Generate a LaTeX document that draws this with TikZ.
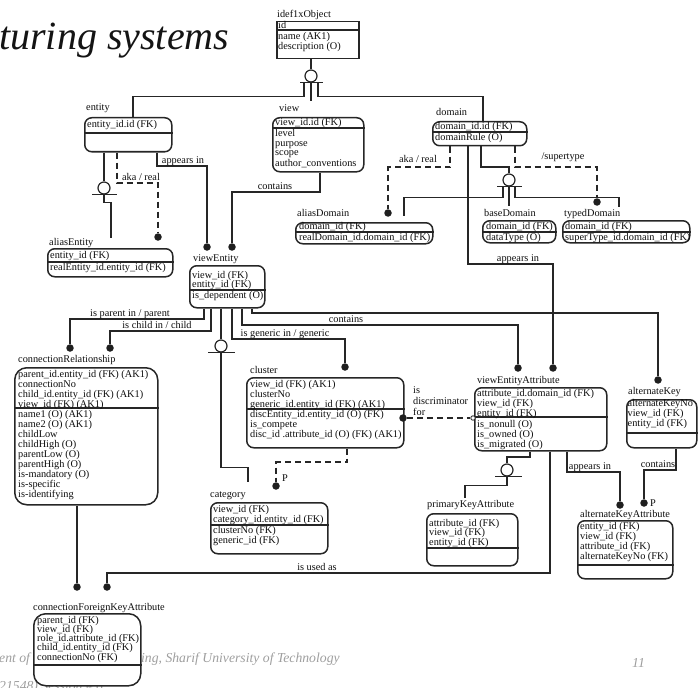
\documentclass[tikz,border=0pt]{standalone}
\usepackage{fontspec}
\setmainfont{Liberation Serif}
\usetikzlibrary{calc}

% stacked attribute rows, first baseline = node baseline
\newcommand\erows[2][10pt]{\vtop{\baselineskip=#1\lineskiplimit=-30pt\lineskip=0pt\halign{##\hfil\cr#2\crcr}}}

\begin{document}
\begin{tikzpicture}[x=1pt,y=-1pt,
  conn/.style={line width=1.2pt, draw=black!85},
  dconn/.style={conn, dash pattern=on 6pt off 4pt},
  ebox/.style={draw=black!85, line width=1.5pt, fill=white, rounded corners=7pt, inner sep=0pt, anchor=north west},
  bigbox/.style={ebox, rounded corners=12pt},
  ibox/.style={ebox, rounded corners=0pt},
  sepl/.style={line width=1.2pt, draw=black!85},
  rowt/.style={inner sep=0pt, anchor=base west, text=black!95, font=\fontsize{10.3}{10}\selectfont},
  lbl/.style={rowt},
  rlab/.style={rowt, anchor=base},
  blob/.style={circle, fill=black!88, inner sep=0pt, minimum size=7.5pt},
  catc/.style={circle, draw=black!85, fill=white, line width=1.2pt, minimum size=12pt, inner sep=0pt},
  foot/.style={inner sep=0pt, anchor=base west, text=black!38, font=\fontsize{13.7}{13.7}\selectfont\itshape},
]
\useasboundingbox (0,0) rectangle (700,687);
\clip (0,0) rectangle (700,687);

% slide title and footer
\node[anchor=base west, inner sep=0pt, font=\fontsize{40}{40}\selectfont\itshape, text=black!92] (title) at (-1,50) {turing systems};
\node[foot] (foot1) at (-1,662) {ent of Industrial Engineering, Sharif University of Technology};
\node[foot] (foot2) at (632,667) {11};
\node[foot] (foot3) at (-1,690) {21548) Session \# 6};

% ---------- entity boxes ----------
% idef1xObject
\node[ibox, minimum width=82pt, minimum height=37pt] (iobj) at (276,21) {};
\draw[sepl] (iobj.west |- 0,30) -- (iobj.east |- 0,30);
\node[lbl] (iobj-l) at (277,18) {idef1xObject};
\node[rowt] (iobj-k) at (278,28.5) {id};
\node[rowt] (iobj-n) at (278,40) {\erows{name (AK1)\cr description (O)}};

% entity
\node[ebox, minimum width=87pt, minimum height=34pt] (entity) at (84,117) {};
\draw[sepl] (entity.west |- 0,133) -- (entity.east |- 0,133);
\node[lbl] (entity-l) at (86,111) {entity};
\node[rowt] (entity-k) at (87,128) {entity\_id.id (FK)};

% view
\node[ebox, minimum width=91pt, minimum height=54pt] (view) at (272,117) {};
\draw[sepl] (view.west |- 0,128) -- (view.east |- 0,128);
\node[lbl] (view-l) at (279,112) {view};
\node[rowt] (view-k) at (275,126) {view\_id.id (FK)};
\node[rowt] (view-n) at (275,136) {\erows{level\cr purpose\cr scope\cr author\_conventions}};

% domain
\node[ebox, minimum width=94pt, minimum height=24pt] (domain) at (432,121) {};
\draw[sepl] (domain.west |- 0,132) -- (domain.east |- 0,132);
\node[lbl] (domain-l) at (436,116) {domain};
\node[rowt] (domain-k) at (435,129.5) {domain\_id.id (FK)};
\node[rowt] (domain-n) at (435,140.5) {domainRule (O)};

% aliasEntity
\node[ebox, minimum width=125pt, minimum height=28pt] (aliasEntity) at (47,248) {};
\draw[sepl] (aliasEntity.west |- 0,262) -- (aliasEntity.east |- 0,262);
\node[lbl] (aliasEntity-l) at (49,245) {aliasEntity};
\node[rowt] (aliasEntity-k) at (50,258.5) {entity\_id (FK)};
\node[rowt] (aliasEntity-n) at (50,270) {realEntity\_id.entity\_id (FK)};

% aliasDomain
\node[ebox, minimum width=137pt, minimum height=21pt] (aliasDomain) at (295,222) {};
\draw[sepl] (aliasDomain.west |- 0,232) -- (aliasDomain.east |- 0,232);
\node[lbl] (aliasDomain-l) at (297,216) {aliasDomain};
\node[rowt] (aliasDomain-k) at (299,229.5) {domain\_id (FK)};
\node[rowt] (aliasDomain-n) at (299,240) {realDomain\_id.domain\_id (FK)};

% baseDomain
\node[ebox, minimum width=73pt, minimum height=22pt] (baseDomain) at (482,220) {};
\draw[sepl] (baseDomain.west |- 0,232) -- (baseDomain.east |- 0,232);
\node[lbl] (baseDomain-l) at (484,216) {baseDomain};
\node[rowt] (baseDomain-k) at (486,229.5) {domain\_id (FK)};
\node[rowt] (baseDomain-n) at (486,240) {dataType (O)};

% typedDomain
\node[ebox, minimum width=127pt, minimum height=22pt] (typedDomain) at (562,220) {};
\draw[sepl] (typedDomain.west |- 0,232) -- (typedDomain.east |- 0,232);
\node[lbl] (typedDomain-l) at (564,216) {typedDomain};
\node[rowt] (typedDomain-k) at (565,229.5) {domain\_id (FK)};
\node[rowt] (typedDomain-n) at (565,240) {superType\_id.domain\_id (FK)};

% viewEntity
\node[ebox, minimum width=75pt, minimum height=42pt] (viewEntity) at (189,265) {};
\draw[sepl] (viewEntity.west |- 0,290) -- (viewEntity.east |- 0,290);
\node[lbl] (viewEntity-l) at (193,261) {viewEntity};
\node[rowt] (viewEntity-k) at (192,278) {\erows[9.5pt]{view\_id (FK)\cr entity\_id (FK)}};
\node[rowt] (viewEntity-n) at (192,298) {is\_dependent (O)};

% connectionRelationship
\node[bigbox, minimum width=143pt, minimum height=137pt] (connRel) at (14,367) {};
\draw[sepl] (connRel.west |- 0,408) -- (connRel.east |- 0,408);
\node[lbl] (connRel-l) at (18,362) {connectionRelationship};
\node[rowt] (connRel-k) at (18,377) {\erows{parent\_id.entity\_id (FK) (AK1)\cr connectionNo\cr child\_id.entity\_id (FK) (AK1)\cr view\_id (FK) (AK1)}};
\node[rowt] (connRel-n) at (18,417) {\erows{name1 (O) (AK1)\cr name2 (O) (AK1)\cr childLow\cr childHigh (O)\cr parentLow (O)\cr parentHigh (O)\cr is-mandatory (O)\cr is-specific\cr is-identifying}};

% cluster
\node[ebox, minimum width=157pt, minimum height=70pt] (cluster) at (246,377) {};
\draw[sepl] (cluster.west |- 0,409) -- (cluster.east |- 0,409);
\node[lbl] (cluster-l) at (250,373) {cluster};
\node[rowt] (cluster-k) at (250,387) {\erows{view\_id (FK) (AK1)\cr clusterNo\cr generic\_id.entity\_id (FK) (AK1)}};
\node[rowt] (cluster-n) at (250,417.5) {\erows{discEntity\_id.entity\_id (O) (FK)\cr is\_compete\cr disc\_id .attribute\_id (O) (FK) (AK1)}};

% category
\node[ebox, minimum width=117pt, minimum height=51pt] (category) at (210,502) {};
\draw[sepl] (category.west |- 0,525) -- (category.east |- 0,525);
\node[lbl] (category-l) at (210,497) {category};
\node[rowt] (category-k) at (213,512) {\erows{view\_id (FK)\cr category\_id.entity\_id (FK)}};
\node[rowt] (category-n) at (213,533) {\erows{clusterNo (FK)\cr generic\_id (FK)}};

% viewEntityAttribute
\node[ebox, minimum width=132pt, minimum height=63pt] (vea) at (474,387) {};
\draw[sepl] (vea.west |- 0,417) -- (vea.east |- 0,417);
\node[lbl] (vea-l) at (477,383) {viewEntityAttribute};
\node[rowt] (vea-k) at (477,396) {\erows{attribute\_id.domain\_id (FK)\cr view\_id (FK)\cr entity\_id (FK)}};
\node[rowt] (vea-n) at (477,427) {\erows{is\_nonull (O)\cr is\_owned (O)\cr is\_migrated (O)}};

% alternateKey
\node[ebox, minimum width=70pt, minimum height=48pt] (altKey) at (626,399) {};
\draw[sepl] (altKey.west |- 0,433) -- (altKey.east |- 0,433);
\node[lbl] (altKey-l) at (628,394) {alternateKey};
\node[rowt] (altKey-k) at (627.5,406) {\erows{alternateKeyNo\cr view\_id (FK)\cr entity\_id (FK)}};

% primaryKeyAttribute
\node[ebox, minimum width=91pt, minimum height=52pt] (pka) at (426,513) {};
\draw[sepl] (pka.west |- 0,548) -- (pka.east |- 0,548);
\node[lbl] (pka-l) at (427,507) {primaryKeyAttribute};
\node[rowt] (pka-k) at (429,526) {\erows[9.7pt]{attribute\_id (FK)\cr view\_id (FK)\cr entity\_id (FK)}};

% alternateKeyAttribute
\node[ebox, minimum width=95pt, minimum height=58pt] (akAttr) at (577,520) {};
\draw[sepl] (akAttr.west |- 0,565) -- (akAttr.east |- 0,565);
\node[lbl] (akAttr-l) at (580,517) {alternateKeyAttribute};
\node[rowt] (akAttr-k) at (580,529) {\erows{entity\_id (FK)\cr view\_id (FK)\cr attribute\_id (FK)\cr alternateKeyNo (FK)}};

% connectionForeignKeyAttribute
\node[bigbox, minimum width=107pt, minimum height=72pt] (cfka) at (33,613) {};
\draw[sepl] (cfka.west |- 0,665) -- (cfka.east |- 0,665);
\node[lbl] (cfka-l) at (33,610) {connectionForeignKeyAttribute};
\node[rowt] (cfka-k) at (37,623) {\erows[9.3pt]{parent\_id (FK)\cr view\_id (FK)\cr role\_id.attribute\_id (FK)\cr child\_id.entity\_id (FK)\cr connectionNo (FK)}};

% ---------- category symbols ----------
\node[catc] (c1) at (311,76) {};
\node[catc] (c2) at (104,188) {};
\node[catc] (c3) at (509,180) {};
\node[catc] (c4) at (221,346) {};
\node[catc] (c5) at (507,470) {};

% ---------- relationship end dots ----------
\node[blob] (d1) at (158,237) {};
\node[blob] (d2) at (207,247) {};
\node[blob] (d3) at (232,247) {};
\node[blob] (d4) at (388,213) {};
\node[blob] (d5) at (597,202) {};
\node[blob] (d6) at (553,368) {};
\node[blob] (d7) at (70,348) {};
\node[blob] (d8) at (110,348) {};
\node[blob] (d9) at (345,367) {};
\node[blob] (d10) at (518,368) {};
\node[blob] (d11) at (658,380) {};
\node[blob] (d12) at (403,418) {};
\node[blob] (d13) at (276,486) {};
\node[blob] (d14) at (77,587) {};
\node[blob] (d15) at (107,587) {};
\node[blob] (d16) at (620,505) {};
\node[blob] (d17) at (644,503) {};
\node[circle, draw=black!85, fill=white, inner sep=0pt, minimum size=4.5pt, line width=0.8pt] (oc) at (473,418) {};

% free ends of subtype lines
\coordinate (viewStub) at (311,101);
\coordinate (aeTop) at (111,238);
\coordinate (adTop) at (404,216);
\coordinate (bdTop) at (509,206);
\coordinate (tdTop) at (619,207);
\coordinate (catTop) at (248,482);
\coordinate (pkTop) at (465,498);

% ---------- idef1xObject generalisation ----------
\draw[conn] (iobj.south -| c1) -- (c1);
\draw[conn] ([xshift=-11pt]c1.south) -- ([xshift=12pt]c1.south);
\draw[conn] ([xshift=-7pt]c1.south) -- ++(0,14) -| (entity.north -| 133,0);
\draw[conn] (c1.south) -- (viewStub);
\draw[conn] ([xshift=7pt]c1.south) -- ++(0,14) -| (domain.north -| 483,0);

% ---------- entity ----------
\draw[conn] (entity.south -| c2) -- (c2);
\draw[conn] ([xshift=-12pt]c2.south) -- ([xshift=13pt]c2.south);
\draw[conn] (c2.south) -- ++(0,8) -| (aeTop);
\draw[dconn] (entity.south -| 117,0) |- (d1 |- 0,183) -- (d1);
\node[rlab] (lbl-aka1) at (141,180) {aka / real};
\draw[conn] (entity.south -| 157,0) |- (d2 |- 0,166) -- (d2);
\node[rlab] (lbl-app1) at (183,163) {appears in};

% ---------- view ----------
\draw[conn] (view.south -| 320,0) |- (d3 |- 0,192) -- (d3);
\node[rlab] (lbl-cont1) at (275,189) {contains};

% ---------- domain ----------
\draw[conn] (domain.south -| 481,0) |- (c3 |- 0,167) -- (c3);
\draw[conn] ([xshift=-12pt]c3.south) -- ([xshift=13pt]c3.south);
\draw[conn] ([xshift=-6pt]c3.south) -- ++(0,11) -| (adTop);
\draw[conn] (c3.south) -- (bdTop);
\draw[conn] ([xshift=6pt]c3.south) -- ++(0,11) -| (tdTop);
\draw[dconn] (domain.south -| 450,0) |- (d4 |- 0,167) -- (d4);
\node[rlab] (lbl-aka2) at (418,162) {aka / real};
\draw[dconn] (domain.south -| 515,0) |- (d5 |- 0,167) -- (d5);
\node[rlab] (lbl-super) at (563,160) {/supertype};
\draw[conn] (domain.south -| 468,0) |- (d6 |- 0,264) -- (d6);
\node[rlab] (lbl-app2) at (518,261) {appears in};

% ---------- viewEntity ----------
\draw[conn] (viewEntity.south -| 204,0) |- (d7 |- 0,319) -- (d7);
\node[rlab] (lbl-par) at (130,316) {is parent in / parent};
\draw[conn] (viewEntity.south -| 211,0) |- (d8 |- 0,331) -- (d8);
\node[rlab] (lbl-chi) at (157,328) {is child in / child};
\draw[conn] (viewEntity.south -| c4) -- (c4);
\draw[conn] ([xshift=-13pt]c4.south) -- ([xshift=14pt]c4.south);
\draw[conn] (c4.south) -- ++(0,115) -| (catTop);
\draw[conn] (viewEntity.south -| 232,0) |- (d9 |- 0,339) -- (d9);
\node[rlab] (lbl-gen) at (285,336) {is generic in / generic};
\draw[conn] (viewEntity.south -| 242,0) |- (d10 |- 0,325) -- (d10);
\node[rlab] (lbl-cont2) at (346,322) {contains};
\draw[conn] (viewEntity.south -| 252,0) |- (d11 |- 0,313) -- (d11);

% ---------- cluster ----------
\draw[dconn] (d12) -- (oc);
\node[rowt] (lbl-disc) at (413,393) {\erows[11pt]{is\cr discriminator\cr for}};
\draw[dconn] (cluster.south -| 347,0) |- (d13 |- 0,462) -- (d13);
\node[rowt] (lbl-p1) at (282,481) {P};

% ---------- connectionRelationship ----------
\draw[conn] (connRel.south -| d14) -- (d14);

% ---------- viewEntityAttribute ----------
\draw[conn] (vea.south -| 550,0) |- (d15 |- 0,573) -- (d15);
\node[rlab] (lbl-used) at (317,570) {is used as};
\draw[conn] (vea.south -| 530,0) |- (c5 |- 0,457) -- (c5);
\draw[conn] ([xshift=-12pt]c5.south) -- ([xshift=15pt]c5.south);
\draw[conn] (c5.south) -- ++(0,9) -| (pkTop);
\draw[conn] (vea.south -| 567,0) |- (d16 |- 0,472) -- (d16);
\node[rlab] (lbl-app3) at (590,469) {appears in};

% ---------- alternateKey ----------
\draw[conn] (altKey.south -| 676,0) |- (d17 |- 0,470) -- (d17);
\node[rlab] (lbl-cont3) at (658,467) {contains};
\node[rowt] (lbl-p2) at (650,506) {P};
\end{tikzpicture}
\end{document}
